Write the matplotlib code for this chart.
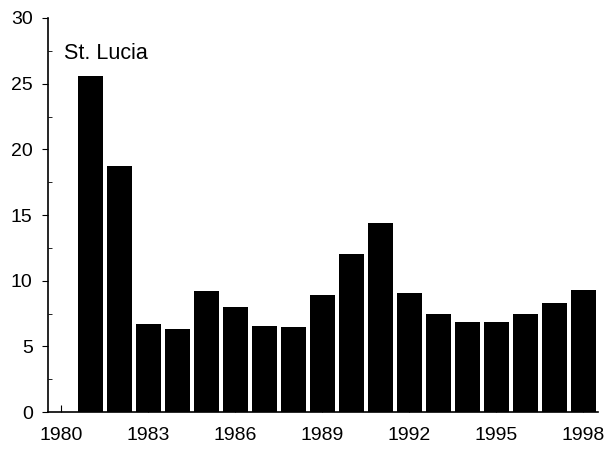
import matplotlib
matplotlib.use("Agg")
import matplotlib.pyplot as plt
from matplotlib.ticker import MultipleLocator

plt.rcParams['font.family'] = ['Liberation Sans', 'DejaVu Sans']

years = list(range(1981, 1999))
values = [25.6, 18.7, 6.7, 6.3, 9.2, 8.0, 6.55, 6.45, 8.9, 12.0,
          14.4, 9.05, 7.5, 6.9, 6.85, 7.45, 8.3, 9.3]
xticks = [1980, 1983, 1986, 1989, 1992, 1995, 1998]
yticks = [0, 5, 10, 15, 20, 25, 30]

fig = plt.figure(figsize=(6.15, 4.49), dpi=100)
ax = fig.add_axes([0.078, 0.082, 0.894, 0.878])

ax.bar(years, values, width=0.86, color='black')

ax.set_xlim(1979.55, 1998.5)
ax.set_ylim(0, 30)
ax.set_xticks(xticks)
ax.set_yticks(yticks)
ax.yaxis.set_minor_locator(MultipleLocator(2.5))
ax.tick_params(axis='both', labelsize=14, color='black')
ax.tick_params(axis='y', which='major', direction='out', length=4, pad=7)
ax.tick_params(axis='y', which='minor', direction='in', length=3)
ax.tick_params(axis='x', which='major', direction='in', length=5, pad=11)

for side in ['top', 'right']:
    ax.spines[side].set_visible(False)
for side in ['left', 'bottom']:
    ax.spines[side].set_linewidth(1.2)

ax.text(1980.1, 27.3, "St. Lucia", fontsize=15.5, va='center', ha='left')

fig.savefig("out.png", dpi=100)
